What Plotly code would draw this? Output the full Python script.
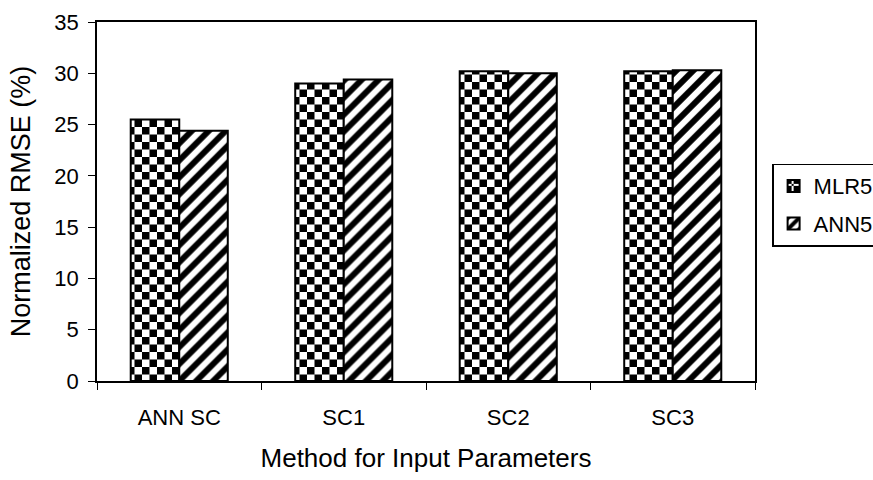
import plotly.graph_objects as go

# Normalized RMSE (%) for each input-parameter method
methods = ["ANN SC", "SC1", "SC2", "SC3"]
mlr5 = [25.5, 29.0, 30.2, 30.2]
ann5 = [24.4, 29.4, 30.0, 30.3]

y_ticks = [0, 5, 10, 15, 20, 25, 30, 35]

FONT = "Liberation Sans, Arial, sans-serif"

# checkerboard tile: two black squares per 15px tile
checker_path = "M0,0H7.5V7.5H0Z M7.5,7.5H15V15H7.5Z"

fig = go.Figure()
fig.add_trace(go.Bar(
    name="MLR5", x=methods, y=mlr5, legendgroup="a",
    marker=dict(color="white",
                line=dict(color="black", width=2),
                pattern=dict(path=checker_path, size=15, fgopacity=1,
                             fgcolor="black", bgcolor="white")),
))
fig.add_trace(go.Bar(
    name="ANN5", x=methods, y=ann5, legendgroup="b",
    marker=dict(color="white",
                line=dict(color="black", width=2),
                pattern=dict(shape="/", size=12, solidity=0.5, fgopacity=1,
                             fgcolor="black", bgcolor="white")),
))

fig.update_layout(
    width=873, height=480,
    barmode="group", bargap=0.41, bargroupgap=0,
    plot_bgcolor="white", paper_bgcolor="white",
    margin=dict(l=97, r=118, t=22, b=99, autoexpand=False),
    font=dict(family=FONT, color="black", size=21),
    showlegend=True,
    legend=dict(x=1.026, xanchor="left", y=0.49, yanchor="middle",
                bordercolor="black", borderwidth=1.5,
                bgcolor="white", tracegroupgap=6, itemwidth=30,
                font=dict(family=FONT, size=22, color="black")),
)

fig.update_xaxes(
    title=dict(text="Method for Input Parameters",
               font=dict(family=FONT, size=26), standoff=20),
    showline=True, linecolor="black", linewidth=1.5, mirror=True,
    ticks="outside", tickson="boundaries", ticklen=7, tickcolor="black",
    ticklabelstandoff=16,
    tickfont=dict(family=FONT, size=22), showgrid=False,
)
fig.update_yaxes(
    title=dict(text="Normalized RMSE (%)",
               font=dict(family=FONT, size=27), standoff=16),
    range=[0, 35], tickvals=y_ticks,
    showline=True, linecolor="black", linewidth=1.5, mirror=True,
    ticks="outside", ticklen=7, tickcolor="black",
    ticklabelstandoff=5,
    tickfont=dict(family=FONT, size=22), showgrid=False, zeroline=False,
)

fig.write_html("out.html")
